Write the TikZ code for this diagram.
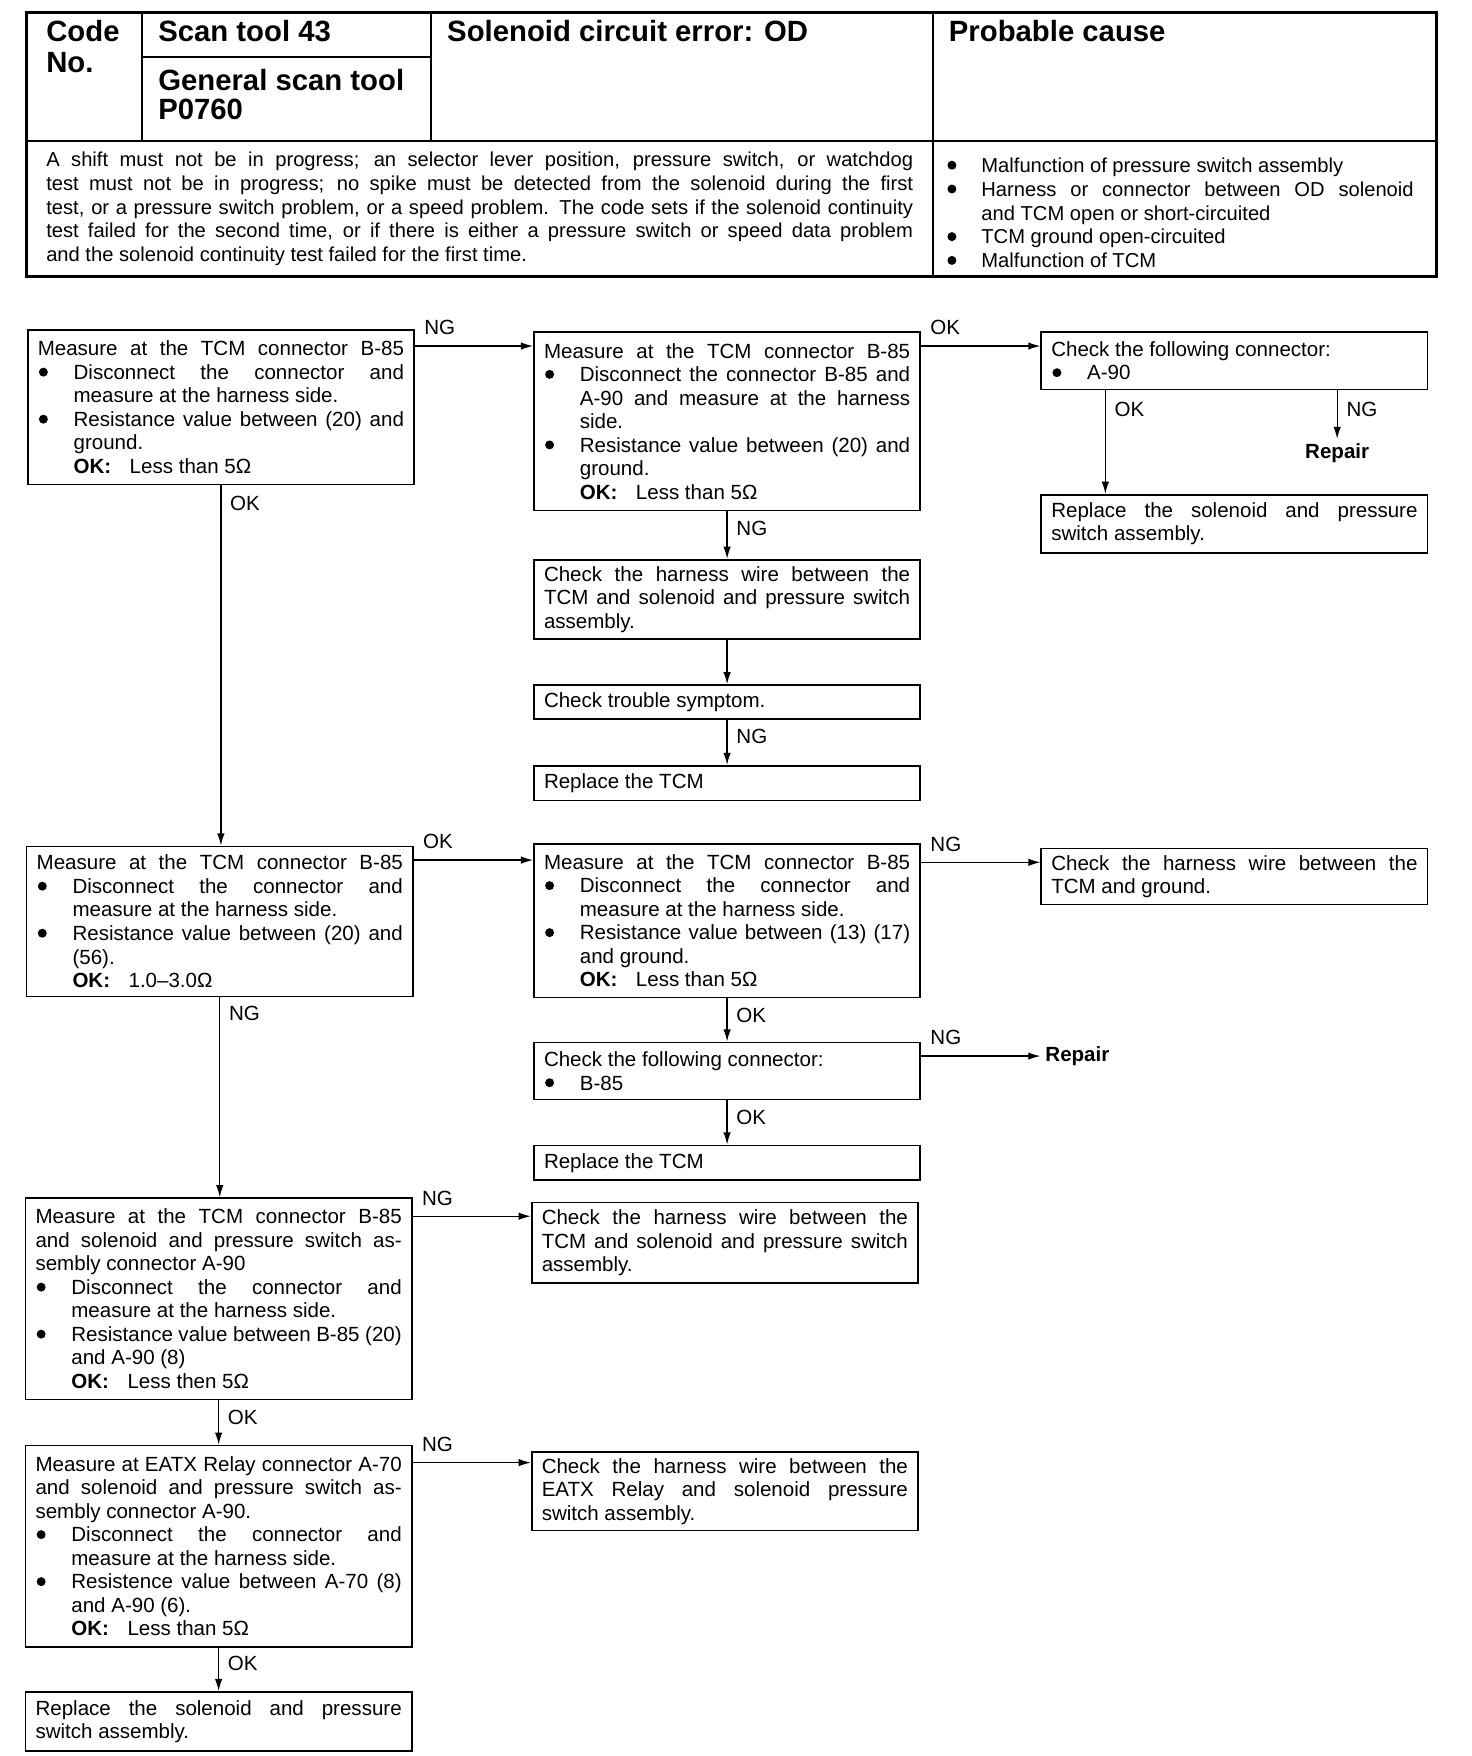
\documentclass[tikz,border=0pt]{standalone}
\usepackage{fontspec}
\setmainfont{Liberation Sans}
\usetikzlibrary{calc,arrows.meta}
\tolerance=10000
\hbadness=10000
\hyphenpenalty=10000
\setlength\parindent{0pt}
\newcommand\bodyfnt{\fontsize{11}{12.6}\selectfont}
\newcommand\hfnt{\fontsize{15.7}{15.6}\selectfont\bfseries}
\newcommand\bigbul{\tikz[baseline=-3.9pt]\fill (0,0) circle (2.4pt);}
\newcommand\bpt{\par\noindent\hangindent=19.2pt\hangafter=1\makebox[19.2pt][l]{\hspace{0.6pt}\bigbul}}
\newcommand\cpt{\par\noindent\hangindent=18.6pt\hangafter=1\makebox[18.6pt][l]{\hspace{0.4pt}\bigbul}}
\newcommand\okl{\par\noindent\hspace*{19.2pt}\textbf{OK:}\hspace{0.9em}}
\newcommand\jline[1]{\noindent\makebox[\hsize][s]{#1}\par}
\tikzset{
  fb/.style={draw, line width=0.9pt, anchor=north west, inner xsep=5.4pt, inner ysep=0pt,
    text width=196.2pt, align=justify, font=\bodyfnt},
  arr/.style={line width=0.7pt, -{Latex[length=6.5pt,width=4pt]}},
  lbl/.style={inner sep=0pt, font=\bodyfnt},
  hd/.style={inner sep=0pt, anchor=base west, font=\hfnt},
  rep/.style={inner sep=2.5pt, font=\bodyfnt\bfseries},
}
\begin{document}
\begin{tikzpicture}[x=0.6pt,y=-0.6pt]
\useasboundingbox (0,0) rectangle (1314,1568);
% ---------- header table ----------
\draw[line width=1.5pt] (24,11) rectangle (1283,247);
\draw[line width=0.9pt] (24,126) -- (1283,126);
\draw[line width=0.9pt] (127,11) -- (127,126);
\draw[line width=0.9pt] (385,11) -- (385,126);
\draw[line width=0.9pt] (833,11) -- (833,247);
\draw[line width=0.9pt] (127,51) -- (385,51);
\node[hd] (hcode) at (41,37) {Code};
\node[hd] (hno) at (41,65) {No.};
\node[hd] (hscan) at (141,37) {Scan tool 43};
\node[hd] (hgen) at (141,81) {General scan tool};
\node[hd] (hp) at (141,107) {P0760};
\node[hd] (hsol) at (399,37) {Solenoid circuit error: OD};
\node[hd] (hprob) at (847,37) {Probable cause};
\node[inner sep=0pt, anchor=west, text width=464.4pt, align=justify,
      font=\fontsize{10.8}{12.75}\selectfont] (cond) at (41,186.5)
 {A shift must not be in progress; an selector lever position, pressure switch, or watchdog\linebreak
  test must not be in progress; no spike must be detected from the solenoid during the first\linebreak
  test, or a pressure switch problem, or a speed problem. The code sets if the solenoid continuity\linebreak
  test failed for the second time, or if there is either a pressure switch or speed data problem\linebreak
  and the solenoid continuity test failed for the first time.};
\node[inner sep=0pt, anchor=west, text width=250.2pt, align=justify,
      font=\fontsize{10.8}{12.75}\selectfont] (causes) at (845,186)
 {\cpt Malfunction of pressure switch assembly
  \cpt Harness or connector between OD solenoid\linebreak and TCM open or short-circuited
  \cpt TCM ground open-circuited
  \cpt Malfunction of TCM};
% ---------- flow boxes ----------
\node[fb, minimum height=82.8pt] (b1) at (24,294)
 {\jline{Measure at the TCM connector B-85}\bpt Disconnect the connector and\linebreak measure at the harness side.\bpt Resistance value between (20) and\linebreak ground.\okl Less than 5Ω};
\node[fb, minimum height=95.4pt] (b2) at (476,296)
 {\jline{Measure at the TCM connector B-85}\bpt Disconnect the connector B-85 and\linebreak A-90 and measure at the harness\linebreak side.\bpt Resistance value between (20) and\linebreak ground.\okl Less than 5Ω};
\node[fb, minimum height=30.6pt] (b3) at (929,296)
 {Check the following connector:\bpt A-90};
\node[fb, minimum height=31.2pt] (b3b) at (929,441)
 {Replace the solenoid and pressure\linebreak switch assembly.};
\node[fb, minimum height=42.6pt] (b5) at (476,499)
 {Check the harness wire between the\linebreak TCM and solenoid and pressure switch\linebreak assembly.};
\node[fb, minimum height=18pt] (b6) at (476,611) {Check trouble symptom.};
\node[fb, minimum height=18.6pt] (b7) at (476,683) {Replace the TCM};
\node[fb, minimum height=80.4pt] (b4) at (23,755)
 {\jline{Measure at the TCM connector B-85}\bpt Disconnect the connector and\linebreak measure at the harness side.\bpt Resistance value between (20) and\linebreak (56).\okl 1.0–3.0Ω};
\node[fb, minimum height=82.2pt] (b8) at (476,753)
 {\jline{Measure at the TCM connector B-85}\bpt Disconnect the connector and\linebreak measure at the harness side.\bpt Resistance value between (13) (17)\linebreak and ground.\okl Less than 5Ω};
\node[fb, minimum height=30pt] (b9) at (929,757)
 {Check the harness wire between the\linebreak TCM and ground.};
\node[fb, minimum height=30.6pt] (b10) at (476,930)
 {Check the following connector:\bpt B-85};
\node[fb, minimum height=18.6pt] (b10b) at (476,1022) {Replace the TCM};
\node[fb, minimum height=108pt] (b11) at (22,1069)
 {Measure at the TCM connector B-85\linebreak and solenoid and pressure switch as-\linebreak sembly connector A-90\bpt Disconnect the connector and\linebreak measure at the harness side.\bpt Resistance value between B-85 (20)\linebreak and A-90 (8)\okl Less then 5Ω};
\node[fb, minimum height=43.2pt] (b12) at (474,1073)
 {Check the harness wire between the\linebreak TCM and solenoid and pressure switch\linebreak assembly.};
\node[fb, minimum height=108pt] (b13) at (22,1290)
 {Measure at EATX Relay connector A-70\linebreak and solenoid and pressure switch as-\linebreak sembly connector A-90.\bpt Disconnect the connector and\linebreak measure at the harness side.\bpt Resistence value between A-70 (8)\linebreak and A-90 (6).\okl Less than 5Ω};
\node[fb, minimum height=42pt] (b14) at (474,1296)
 {Check the harness wire between the\linebreak EATX Relay and solenoid pressure\linebreak switch assembly.};
\node[fb, minimum height=31.8pt] (b15) at (22,1510)
 {Replace the solenoid and pressure\linebreak switch assembly.};
\node[rep] (rep1) at (1194,405) {Repair};
\node[rep, anchor=west] (rep2) at (929,943) {Repair};
% ---------- connectors ----------
% B1 -> B2 NG
\coordinate (s1) at ($(b1.north east)+(0,15)$);
\draw[arr] (s1) -- (s1 -| b2.west);
\node[lbl, anchor=base west] (l1) at ($(s1)+(8,-10)$) {NG};
% B2 -> B3 OK
\coordinate (s2) at ($(b2.north east)+(0,13)$);
\draw[arr] (s2) -- (s2 -| b3.west);
\node[lbl, anchor=base west] (l2) at ($(s2)+(8,-10)$) {OK};
% B1 -> B4 OK
\draw[arr] (b1.south) -- (b1.south |- b4.north);
\node[lbl, anchor=west] (l3) at ($(b1.south)+(8,16)$) {OK};
% B2 -> B5 NG
\draw[arr] (b2.south) -- (b2.south |- b5.north);
\node[lbl, anchor=west] (l4) at ($(b2.south)+(8,15)$) {NG};
% B3 -> B3b OK
\coordinate (s3) at ($(b3.south west)+(58,0)$);
\draw[arr] (s3) -- (s3 |- b3b.north);
\node[lbl, anchor=west] (l5) at ($(s3)+(8,17)$) {OK};
% B3 -> Repair NG
\coordinate (s3n) at (rep1.north |- b3.south);
\draw[arr] (s3n) -- (rep1.north);
\node[lbl, anchor=west] (l6) at ($(s3n)+(8,17)$) {NG};
% B5 -> B6
\draw[arr] (b5.south) -- (b5.south |- b6.north);
% B6 -> B7 NG
\draw[arr] (b6.south) -- (b6.south |- b7.north);
\node[lbl, anchor=west] (l7) at ($(b6.south)+(8,15)$) {NG};
% B4 -> B8 OK
\coordinate (s4) at ($(b4.north east)+(0,13)$);
\draw[arr] (s4) -- (s4 -| b8.west);
\node[lbl, anchor=base west] (l8) at ($(s4)+(8,-10)$) {OK};
% B4 -> B11 NG
\draw[arr] (b4.south) -- (b4.south |- b11.north);
\node[lbl, anchor=west] (l9) at ($(b4.south)+(8,14)$) {NG};
% B8 -> B9 NG
\coordinate (s5) at ($(b8.north east)+(0,17)$);
\draw[arr] (s5) -- (s5 -| b9.west);
\node[lbl, anchor=base west] (l10) at ($(s5)+(8,-10)$) {NG};
% B8 -> B10 OK
\draw[arr] (b8.south) -- (b8.south |- b10.north);
\node[lbl, anchor=west] (l11) at ($(b8.south)+(8,15)$) {OK};
% B10 -> Repair NG
\coordinate (s6) at (rep2.west -| b10.east);
\draw[arr] (s6) -- (rep2.west);
\node[lbl, anchor=base west] (l12) at ($(s6)+(8,-10)$) {NG};
% B10 -> B10b OK
\draw[arr] (b10.south) -- (b10.south |- b10b.north);
\node[lbl, anchor=west] (l13) at ($(b10.south)+(8,15)$) {OK};
% B11 -> B12 NG
\coordinate (s7) at ($(b11.north east)+(0,17)$);
\draw[arr] (s7) -- (s7 -| b12.west);
\node[lbl, anchor=base west] (l14) at ($(s7)+(8,-10)$) {NG};
% B11 -> B13 OK
\draw[arr] (b11.south) -- (b11.south |- b13.north);
\node[lbl, anchor=west] (l15) at ($(b11.south)+(8,15)$) {OK};
% B13 -> B14 NG
\coordinate (s8) at ($(b13.north east)+(0,16)$);
\draw[arr] (s8) -- (s8 -| b14.west);
\node[lbl, anchor=base west] (l16) at ($(s8)+(8,-10)$) {NG};
% B13 -> B15 OK
\draw[arr] (b13.south) -- (b13.south |- b15.north);
\node[lbl, anchor=west] (l17) at ($(b13.south)+(8,14)$) {OK};
\end{tikzpicture}
\end{document}
